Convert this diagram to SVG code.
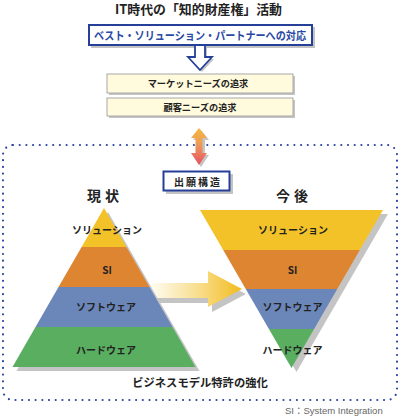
<svg xmlns="http://www.w3.org/2000/svg" width="400" height="416" viewBox="0 0 400 416">
<defs>
<style>
text{font-family:"Noto Sans CJK JP","Liberation Sans",sans-serif;font-weight:bold;fill:#222;text-anchor:middle}
.shadow{fill:#c4c4c4}
.need{fill:#fffbdc;stroke:#a8a8a8;stroke-width:1}
</style>
<linearGradient id="gArrow" x1="0" y1="0" x2="1" y2="0">
<stop offset="0" stop-color="#fffdf4"/>
<stop offset="0.55" stop-color="#f8dc88"/>
<stop offset="1" stop-color="#f2bb1c"/>
</linearGradient>
<linearGradient id="gDouble" x1="0" y1="0" x2="0" y2="1">
<stop offset="0" stop-color="#f5b73c"/>
<stop offset="0.45" stop-color="#ec9a5a"/>
<stop offset="1" stop-color="#e84f63"/>
</linearGradient>
</defs>
<rect width="400" height="416" fill="#fff"/>

<g id="title"><text x="198.5" y="13.5" font-size="13" textLength="167" lengthAdjust="spacingAndGlyphs">IT時代の「知的財産権」活動</text></g>

<g id="frame"><rect x="3" y="145" width="394" height="255" rx="10" fill="none" stroke="#2b45a0" stroke-width="2.2" stroke-dasharray="0 6.7" stroke-linecap="round"/></g>

<g id="best">
<rect x="91" y="27" width="224" height="21" class="shadow"/>
<rect x="89" y="25" width="223" height="20" fill="#fff" stroke="#26409a" stroke-width="2"/>
<text x="200" y="39.5" font-size="11.5" style="fill:#2a4aa5" textLength="212" lengthAdjust="spacingAndGlyphs">ベスト・ソリューション・パートナーへの対応</text>
</g>

<g id="market">
<rect x="109" y="76" width="186" height="19" class="shadow"/>
<rect x="107" y="74" width="186" height="19" class="need"/>
<text x="198" y="87" font-size="9.2">マーケットニーズの追求</text>
</g>
<g id="customer">
<rect x="109" y="100" width="186" height="18" class="shadow"/>
<rect x="107" y="98" width="186" height="18" class="need"/>
<text x="200" y="110.5" font-size="9.2">顧客ニーズの追求</text>
</g>

<g id="connectors">
<polygon points="197,47 207,47 207,59 214,59 202,72 190,59 197,59" class="shadow"/>
<polygon points="195,45 205,45 205,57 212,57 200,70 188,57 195,57" fill="#fff" stroke="#26409a" stroke-width="1.8" stroke-linejoin="miter"/>
<polygon points="201,130 209,140 205,140 205,155 209,155 201,167 193,155 197,155 197,140 193,140" class="shadow"/>
<polygon points="199,128 207,138 202.5,138 202.5,153 207,153 199,165 191,153 195.5,153 195.5,138 191,138" fill="url(#gDouble)"/>
<polygon points="154,288 212,288 212,276 246,294 212,312 212,303 154,303" class="shadow"/>
<polygon points="150,283 208,283 208,271 242,289 208,307 208,298 150,298" fill="url(#gArrow)"/>
</g>

<g id="kozo">
<rect x="166" y="174" width="67" height="20" class="shadow"/>
<rect x="163.5" y="171.5" width="66" height="19" fill="#fff" stroke="#26409a" stroke-width="2"/>
<text x="198" y="185.5" font-size="10" letter-spacing="2">出願構造</text>
</g>

<g id="genjo"><text x="105" y="201" font-size="14" letter-spacing="4">現状</text></g>
<g id="kongo"><text x="294" y="201" font-size="14" letter-spacing="4">今後</text></g>

<g id="current">
<polygon points="108,212 199.5,371 16.5,371" class="shadow"/>
<polygon points="104,208 126.4,247 81.6,247" fill="#f3c228"/>
<polygon points="81.6,247 126.4,247 149.5,287 58.5,287" fill="#de8532"/>
<polygon points="58.5,287 149.5,287 172.5,327 35.5,327" fill="#6b87ba"/>
<polygon points="35.5,327 172.5,327 195.5,367 12.5,367" fill="#5aae5f"/>
<text x="107" y="234" font-size="10">ソリューション</text>
<text x="107" y="274" font-size="10">SI</text>
<text x="106" y="311" font-size="10">ソフトウェア</text>
<text x="106" y="354" font-size="10">ハードウェア</text>
</g>

<g id="future">
<polygon points="205,214 388,214 296.5,372" class="shadow"/>
<polygon points="200,210 383,210 359.8,250 223.2,250" fill="#f3c228"/>
<polygon points="223.2,250 359.8,250 337.25,289 245.75,289" fill="#de8532"/>
<polygon points="245.75,289 337.25,289 314.1,329 268.9,329" fill="#6b87ba"/>
<polygon points="268.9,329 314.1,329 291.5,368" fill="#5aae5f"/>
<text x="293" y="234" font-size="10">ソリューション</text>
<text x="292.5" y="274" font-size="10">SI</text>
<text x="292.5" y="311" font-size="10">ソフトウェア</text>
<text x="292.5" y="354" font-size="10">ハードウェア</text>
</g>

<g id="bm"><text x="200" y="387" font-size="11.3">ビジネスモデル特許の強化</text></g>

<g id="note"><text x="285" y="414" font-size="9.5" style="fill:#666;font-weight:normal;text-anchor:start;font-family:'Liberation Sans','Noto Sans CJK JP',sans-serif">SI：System Integration</text></g>
</svg>
